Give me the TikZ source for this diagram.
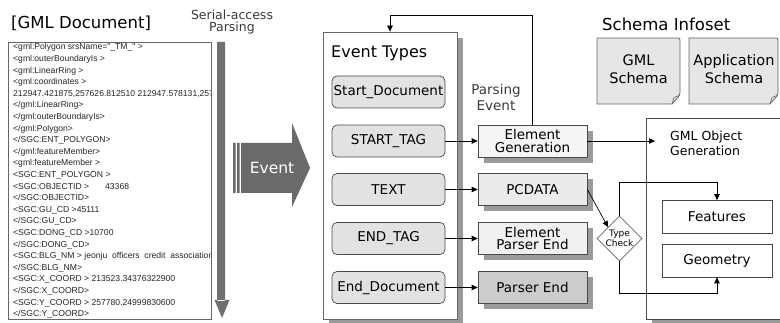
\documentclass[tikz,border=0pt]{standalone}
\usepackage{fontspec}
\setmainfont{DejaVu Sans}
\newfontfamily\docfont{Liberation Sans}
\usetikzlibrary{arrows.meta,shapes.geometric,shadows}

\definecolor{boxline}{HTML}{4A4A4A}
\definecolor{frameline}{HTML}{666666}
\definecolor{evfill}{HTML}{E2E2E2}
\definecolor{shadowgray}{HTML}{9A9A9A}
\definecolor{arrowgray}{HTML}{707070}
\definecolor{eventgray}{HTML}{6A6A6A}
\definecolor{docfill}{HTML}{E6E6E6}
\definecolor{textgray}{HTML}{3A3A3A}

\tikzset{
  arr/.style={draw=black, line width=0.7pt, -{Triangle[length=6pt,width=5.5pt]}},
  shad/.style={general shadow={fill=shadowgray, shadow xshift=6pt, shadow yshift=-6pt}},
  evbox/.style={draw=boxline, fill=evfill, rounded corners=5pt, line width=0.7pt,
    minimum width=113pt, minimum height=32pt, inner sep=0pt,
    font=\fontsize{13.5}{14}\selectfont},
  procbox/.style={draw=boxline, line width=0.7pt, shad, minimum width=109pt,
    minimum height=32pt, inner sep=0pt, align=center,
    font=\fontsize{13.5}{12.5}\selectfont},
  plainbox/.style={draw=boxline, fill=white, line width=0.7pt, minimum width=110pt,
    minimum height=33pt, inner sep=0pt, font=\fontsize{13.5}{14}\selectfont},
  title/.style={font=\fontsize{16}{18}\selectfont, inner sep=0pt, anchor=west},
  docline/.style={font=\docfont\fontsize{8.6}{10}\selectfont, anchor=base west,
    inner sep=0pt, text=black!85},
  schematext/.style={align=center, inner sep=0pt, font=\fontsize{14.5}{18}\selectfont}
}

\begin{document}
\begin{tikzpicture}[x=1pt,y=-1pt]
\useasboundingbox (0,0) rectangle (780,323);
\clip (0,0) rectangle (780,323);
\fill[white] (0,0) rectangle (780,323);

% ---------- GML document listing ----------
\node[title, font=\fontsize{16.5}{18}\selectfont] (doctitle) at (11,23) {[GML Document]};
\fill[white] (8,42) rectangle (211,319);
\begin{scope}
  \clip (8,42) rectangle (210,319);
  \foreach \t [count=\i] in {
    {<gml:Polygon srsName="\_TM\_" >},
    {<gml:outerBoundaryIs >},
    {<gml:LinearRing >},
    {<gml:coordinates >},
    {212947.421875,257626.812510 212947.578131,257626.812510},
    {</gml:LinearRing>},
    {</gml:outerBoundaryIs>},
    {</gml:Polygon>},
    {</SGC:ENT\_POLYGON>},
    {</gml:featureMember>},
    {<gml:featureMember >},
    {<SGC:ENT\_POLYGON >},
    {<SGC:OBJECTID >\hspace{16pt}43368},
    {</SGC:OBJECTID>},
    {<SGC:GU\_CD >45111},
    {</SGC:GU\_CD>},
    {<SGC:DONG\_CD >10700},
    {</SGC:DONG\_CD>},
    {<SGC:BLG\_NM > jeonju\ \ officers\ \ credit\ \ association},
    {</SGC:BLG\_NM>},
    {<SGC:X\_COORD > 213523.34376322900},
    {</SGC:X\_COORD>},
    {<SGC:Y\_COORD > 257780.24999830600},
    {</SGC:Y\_COORD>}}
    \node[docline] (docl\i) at (13,{50+(\i-1)*11.6}) {\t};
\end{scope}
\draw[frameline, line width=0.8pt] (8,42) rectangle (211,319);

% ---------- serial-access parsing arrow ----------
\node[align=center, text=textgray, inner sep=0pt,
  font=\fontsize{12.5}{11.5}\selectfont] (serial) at (232,22) {Serial-access\\Parsing};
\fill[arrowgray] (217,42) rectangle (225,301)
  (214.5,300) -- (229.5,300) -- (222,318) -- cycle;

% ---------- Event arrow ----------
\fill[eventgray] (233,143) rectangle (235.5,193)
  (237,143) rectangle (239.5,193);
\fill[eventgray] (241,143) -- (292,143) -- (292,123) -- (310,168)
  -- (292,207) -- (292,193) -- (241,193) -- cycle;
\node[text=white, inner sep=0pt, font=\fontsize{15.5}{16}\selectfont]
  (eventlbl) at (272,168) {Event};

% ---------- Event Types ----------
\node[draw=frameline, fill=white, line width=0.8pt, shad, minimum width=134pt,
  minimum height=287pt, inner sep=0pt] (evt) at (390,175.5) {};
\node[title] (evttitle) at (331,53) {Event Types};

\node[evbox] (e1) at (388.5,92)    {Start\_Document};
\node[evbox] (e2) at (388.5,141)   {START\_TAG};
\node[evbox] (e3) at (388.5,189.5) {TEXT};
\node[evbox] (e4) at (388.5,238.5) {END\_TAG};
\node[evbox] (e5) at (388.5,287.5) {End\_Document};

% ---------- parsing events ----------
\node[align=center, inner sep=0pt, text=textgray,
  font=\fontsize{13.5}{16}\selectfont] (pevent) at (496,97) {Parsing\\Event};

\node[procbox, fill=black!4]  (g1) at (532.5,141)   {Element\\Generation};
\node[procbox, fill=black!8]  (g2) at (532.5,189.5) {PCDATA};
\node[procbox, fill=black!6]  (g3) at (532.5,238.5) {Element\\Parser End};
\node[procbox, fill=black!20] (g4) at (532.5,287.5) {Parser End};

\draw[arr] (e2.east) -- (g1.west);
\draw[arr] (e3.east) -- (g2.west);
\draw[arr] (e4.east) -- (g3.west);
\draw[arr] (e5.east) -- (g4.west);

% feedback loop to the event types
\coordinate (fbturn) at (390,15);
\draw[arr] (g1.north) |- (fbturn) -- (evt.north);

% ---------- schema infoset ----------
\node[title, font=\fontsize{16.5}{18}\selectfont] (schtitle) at (602,24) {Schema Infoset};

\draw[fill=docfill, draw=frameline, line width=0.8pt, rounded corners=2pt]
  (597,38) -- (680,38) -- (680,95) [sharp corners] -- (672,104) -- (597,104) -- cycle;
\draw[frameline, line width=0.6pt] (680,95) -- (674,97.5) -- (672,104);
\node[schematext] (gmlschema) at (638.5,69) {GML\\Schema};

\draw[fill=docfill, draw=frameline, line width=0.8pt, rounded corners=2pt]
  (689,38) -- (778,38) -- (778,95) [sharp corners] -- (770,104) -- (689,104) -- cycle;
\draw[frameline, line width=0.6pt] (778,95) -- (772,97.5) -- (770,104);
\node[schematext] (appschema) at (734,69) {Application\\Schema};

% ---------- GML object generation ----------
\node[draw=boxline, fill=white, line width=0.8pt, shad, minimum width=160pt,
  minimum height=201pt, inner sep=0pt, anchor=north west] (gobj) at (646,118) {};
\node[align=left, inner sep=0pt, anchor=north west,
  font=\fontsize{12.5}{14.5}\selectfont] (gobjlbl) at (670,131) {GML Object\\Generation};

\node[plainbox] (feat) at (717,217)   {Features};
\node[plainbox] (geo)  at (717,260.5) {Geometry};

\node[draw=frameline, fill=white, shape=diamond, line width=0.7pt, inner sep=0pt,
  minimum width=45pt, minimum height=43pt, align=center,
  font=\fontsize{9}{10.5}\selectfont] (tc) at (619.5,238.5) {Type\\Check};

\coordinate (gobjin) at (655,141);
\draw[arr] (g1.east) -- (gobjin);
\draw[arr] (g2.east) -- (tc.north west);
\draw[arr] (tc.north) |- ([yshift=18pt]feat.north) -- (feat.north);
\draw[arr] (tc.south) |- ([yshift=-16pt]geo.south) -- (geo.south);
\end{tikzpicture}
\end{document}
